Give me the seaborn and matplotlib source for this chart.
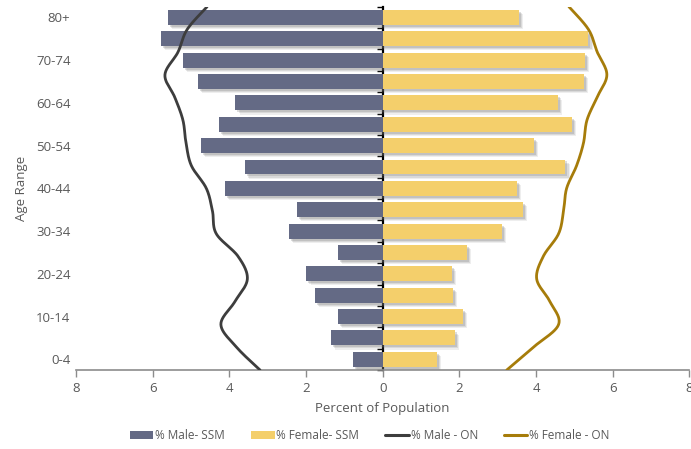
import numpy as np
import pandas as pd
import matplotlib
matplotlib.use("Agg")
import matplotlib.pyplot as plt
import matplotlib.patheffects as pe
from matplotlib.patches import Patch
from matplotlib.lines import Line2D
import seaborn as sns

# Age groups, youngest first
ages = ["0-4", "5-9", "10-14", "15-19", "20-24", "25-29", "30-34", "35-39",
        "40-44", "45-49", "50-54", "55-59", "60-64", "65-69", "70-74", "75-79", "80+"]

# SSM population shares (%)
male_ssm = [0.77, 1.35, 1.17, 1.77, 1.99, 1.16, 2.45, 2.23,
            4.12, 3.60, 4.75, 4.27, 3.84, 4.82, 5.21, 5.78, 5.61]
female_ssm = [1.42, 1.89, 2.10, 1.83, 1.81, 2.20, 3.11, 3.66,
              3.50, 4.77, 3.94, 4.93, 4.57, 5.26, 5.28, 5.37, 3.56]

# Ontario population shares (%)
male_on = [3.20, 3.81, 4.22, 3.86, 3.53, 3.77, 4.34, 4.44,
           4.60, 4.99, 5.13, 5.21, 5.42, 5.68, 5.34, 5.10, 4.58]
female_on = [3.24, 3.93, 4.59, 4.37, 4.02, 4.19, 4.59, 4.72,
             4.80, 5.06, 5.24, 5.33, 5.59, 5.85, 5.60, 5.37, 4.86]

x_ticks = [-8, -6, -4, -2, 0, 2, 4, 6, 8]

MALE_BAR = "#646A85"
FEMALE_BAR = "#F4CF6B"
MALE_LINE = "#3D3D3D"
FEMALE_LINE = "#A67C0A"
TEXT = "#595959"

sns.set_style("white")
plt.rcParams["font.family"] = ["Open Sans", "DejaVu Sans"]


def smooth(xv, yv, n=24):
    """Uniform Catmull-Rom spline through the points (parametric)."""
    P = np.column_stack([xv, yv]).astype(float)
    P = np.vstack([P[0], P, P[-1]])
    out = []
    t = np.linspace(0, 1, n, endpoint=False)[:, None]
    for i in range(1, len(P) - 2):
        p0, p1, p2, p3 = P[i - 1], P[i], P[i + 1], P[i + 2]
        seg = 0.5 * ((2 * p1) + (-p0 + p2) * t + (2 * p0 - 5 * p1 + 4 * p2 - p3) * t ** 2
                     + (-p0 + 3 * p1 - 3 * p2 + p3) * t ** 3)
        out.append(seg)
    out.append(P[-2][None, :])
    out = np.vstack(out)
    return out[:, 0], out[:, 1]


order = ages[::-1]
bars = pd.DataFrame({
    "age": ages * 2,
    "value": [-v for v in male_ssm] + female_ssm,
    "series": ["% Male- SSM"] * len(ages) + ["% Female- SSM"] * len(ages),
})

fig = plt.figure(figsize=(6.91, 4.49), dpi=100)
ax = fig.add_axes([0.110, 0.176, 0.8875, 0.809])

sns.barplot(data=bars, y="age", x="value", hue="series", order=order,
            hue_order=["% Male- SSM", "% Female- SSM"],
            palette=[MALE_BAR, FEMALE_BAR], saturation=1, dodge=False, width=0.7,
            orient="h", legend=False, ax=ax, linewidth=0)
# soft drop shadow under each bar
shadow = [pe.SimplePatchShadow(offset=(o, -o), shadow_rgbFace="#7a7a7a", alpha=a)
          for o, a in ((3.0, 0.12), (2.2, 0.18), (1.4, 0.25))]
for p in ax.patches:
    p.set_path_effects(shadow + [pe.Normal()])

ax.set_xlim(-8, 8)
ax.set_ylim(16.5, -0.5)
ax.set_xticks(x_ticks, labels=[str(abs(v)) for v in x_ticks])
ax.set_yticks(range(0, 17, 2), labels=[order[k] for k in range(0, 17, 2)])
ax.tick_params(axis="y", length=0, labelsize=9.5, labelcolor=TEXT, pad=4)
ax.tick_params(axis="x", length=5, width=1, color="#8C8C8C", direction="out",
               labelsize=9.5, labelcolor=TEXT, pad=4)
ax.set_xlabel("Percent of Population", fontsize=9.5, color=TEXT, labelpad=5)
ax.set_ylabel("Age Range", fontsize=9.5, color=TEXT, labelpad=6)
for s in ("top", "right", "left"):
    ax.spines[s].set_visible(False)
ax.spines["bottom"].set_color("#8C8C8C")
ax.spines["bottom"].set_linewidth(1.2)
ax.xaxis.set_ticks_position("bottom")

# Central vertical axis with category-boundary ticks
mid = ax.secondary_yaxis(0.5)
mid.set_alignment("left")
mid.set_yticks(np.arange(-0.5, 17, 1.0), labels=[])
mid.tick_params(axis="y", length=4, width=1, color="black", direction="out")
mid.spines["left"].set_color("black")
mid.spines["left"].set_linewidth(1.6)

# Ontario lines on a secondary vertical scale spanning the plot height
ax2 = ax.twinx()
ax2.set_ylim(0, len(ages) - 1)
idx = np.arange(len(ages))
mx, my = smooth([-v for v in male_on], idx)
fx, fy = smooth(female_on, idx)
sns.lineplot(x=mx, y=my, sort=False, estimator=None, color=MALE_LINE, lw=2.0, ax=ax2)
sns.lineplot(x=fx, y=fy, sort=False, estimator=None, color=FEMALE_LINE, lw=2.0, ax=ax2)
ax2.set_xlim(-8, 8)
ax2.set_yticks([])
ax2.set_ylabel("")
for s in ax2.spines.values():
    s.set_visible(False)

handles = [
    Patch(facecolor=MALE_BAR, edgecolor="none", label="% Male- SSM"),
    Patch(facecolor=FEMALE_BAR, edgecolor="none", label="% Female- SSM"),
    Line2D([], [], color=MALE_LINE, lw=2.2, label="% Male - ON"),
    Line2D([], [], color=FEMALE_LINE, lw=2.2, label="% Female - ON"),
]
leg = fig.legend(handles=handles, loc="center", bbox_to_anchor=(0.535, 0.03), ncol=4,
                 frameon=False, fontsize=8.5, handlelength=2.0, handleheight=0.6,
                 handletextpad=0.15, columnspacing=2.2, labelcolor=TEXT)

fig.savefig("out.png", dpi=100)
